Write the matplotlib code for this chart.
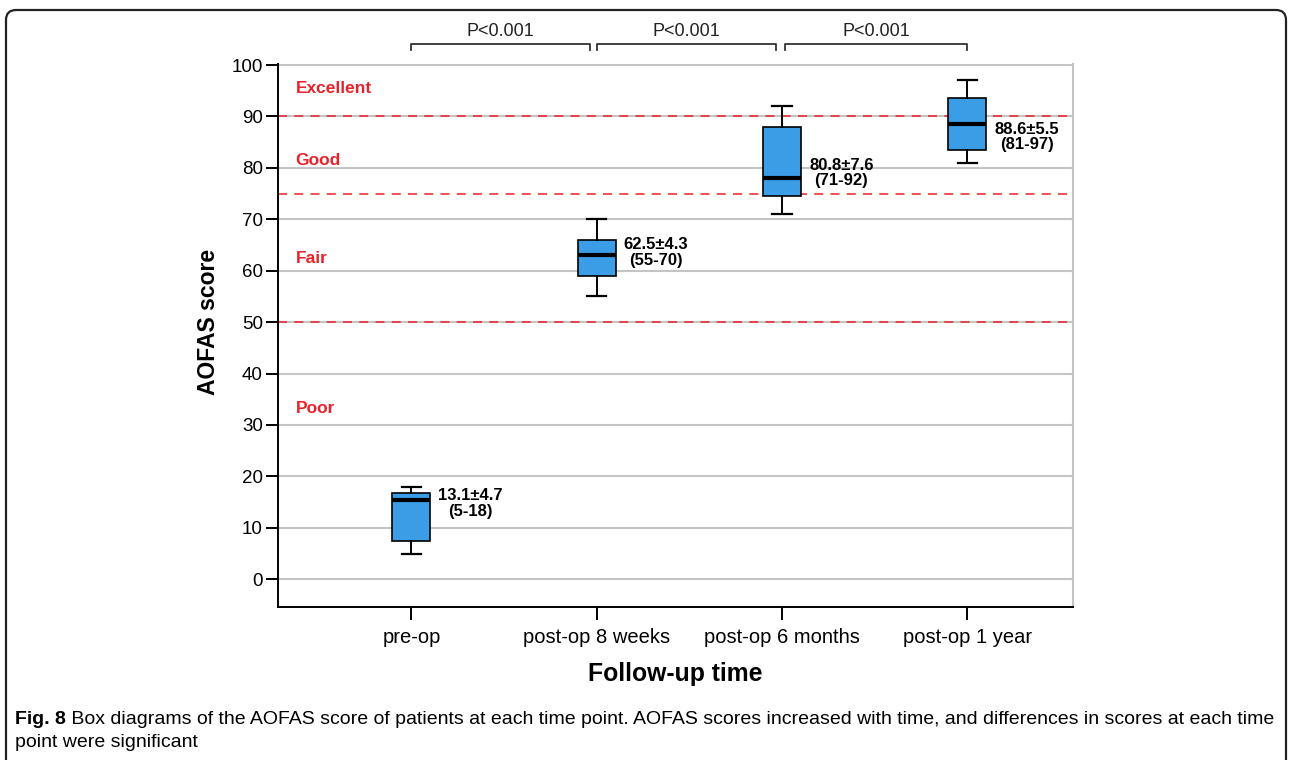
import matplotlib
matplotlib.use('Agg')
import matplotlib.pyplot as plt
from matplotlib.patches import FancyBboxPatch

plt.rcParams['font.family'] = ['Liberation Sans', 'DejaVu Sans']

# data
groups = ['pre-op', 'post-op 8 weeks', 'post-op 6 months', 'post-op 1 year']
whislo = [5, 55, 71, 81]
q1 = [7.5, 59, 74.5, 83.5]
med = [15.5, 63, 78, 88.5]
q3 = [16.8, 66, 88, 93.5]
whishi = [18, 70, 92, 97]
summary = ['13.1\u00b14.7\n(5-18)', '62.5\u00b14.3\n(55-70)',
           '80.8\u00b17.6\n(71-92)', '88.6\u00b15.5\n(81-97)']
summary_y = [14.7, 63.5, 79, 86]
cut_lines = [90, 75, 50]
grade_names = ['Excellent', 'Good', 'Fair', 'Poor']
grade_y = [95.4, 81.5, 62.3, 33.2]
p_labels = ['P<0.001', 'P<0.001', 'P<0.001']

red = '#e8232b'
blue = '#3a9de6'

fig = plt.figure(figsize=(12.92, 7.6), dpi=100)
ax = fig.add_axes([0.2152, 0.2013, 0.6153, 0.7145])

pos = list(range(1, len(groups) + 1))
stats = []
for i in range(len(groups)):
    stats.append(dict(whislo=whislo[i], q1=q1[i], med=med[i], q3=q3[i],
                      whishi=whishi[i], fliers=[], label=groups[i]))
ax.bxp(stats, positions=pos, widths=0.205, patch_artist=True,
       boxprops=dict(facecolor=blue, edgecolor='black', linewidth=1.2),
       medianprops=dict(color='black', linewidth=3),
       whiskerprops=dict(color='black', linewidth=1.4),
       capprops=dict(color='black', linewidth=1.6),
       capwidths=0.105, zorder=3)

# grid
for v in range(0, 101, 10):
    ax.axhline(v, color='#c4c4c4', lw=1.5, zorder=0)
for v in cut_lines:
    ax.axhline(v, color=red, lw=1.3, ls=(0, (5, 4)), zorder=1, alpha=0.85)

for x, y, s in zip(pos, summary_y, summary):
    ax.text(x + 0.32, y, s, ha='center', va='center', fontsize=12,
            fontweight='bold', linespacing=1.05, zorder=4)

for y, s in zip(grade_y, grade_names):
    ax.text(0.375, y, s, ha='left', va='center', fontsize=12.5,
            fontweight='bold', color=red)

ax.set_xlim(0.28, 4.57)
ax.set_ylim(-5.4, 100.2)
ax.set_yticks(range(0, 101, 10))
ax.set_xticks(pos)
ax.set_xticklabels(groups)
ax.tick_params(axis='both', length=9, width=1.4, colors='black')
ax.tick_params(axis='x', pad=6, labelsize=14.5)
ax.tick_params(axis='y', pad=2, labelsize=13.5)
ax.spines['top'].set_visible(False)
ax.spines['right'].set_color('#c4c4c4')
ax.spines['right'].set_linewidth(1.5)
ax.spines['left'].set_linewidth(1.4)
ax.spines['bottom'].set_linewidth(1.4)
ax.set_ylabel('AOFAS score', fontsize=16.5, fontweight='bold')
ax.yaxis.set_label_coords(-0.073, 0.525)
ax.set_xlabel('Follow-up time', fontsize=17.8, fontweight='bold', labelpad=11)

# significance brackets above the plot
trans = ax.get_xaxis_transform()
left_off = [0.0, 0.0, 0.016]
right_off = [0.038, 0.035, 0.0]
for i, lab in enumerate(p_labels):
    x0 = pos[i] + left_off[i]
    x1 = pos[i + 1] - right_off[i]
    yb, yt = 1.026, 1.037
    ax.plot([x0, x0, x1, x1], [yb, yt, yt, yb], color='#333333', lw=1.3,
            transform=trans, clip_on=False)
    ax.text((x0 + x1) / 2, 1.059, lab, ha='center', va='center',
            fontsize=13, transform=trans, color='#222222')

# caption
cap_font = ['Liberation Sans Narrow', 'Liberation Sans', 'DejaVu Sans']
t1 = fig.text(15 / 1292, 1 - 724 / 760, 'Fig. 8', fontsize=14,
              fontweight='bold', family=cap_font, va='baseline')
ax.annotate(' Box diagrams of the AOFAS score of patients at each time point. '
            'AOFAS scores increased with time, and differences in scores at each time',
            xy=(1, 0), xycoords=t1, va='bottom', ha='left',
            fontsize=14, family=cap_font, annotation_clip=False)
fig.text(15 / 1292, 1 - 747 / 760, 'point were significant', fontsize=14,
         family=cap_font, va='baseline')

# rounded frame around the whole panel
frame = FancyBboxPatch((0.06, -0.2), 12.8, 7.7,
                       boxstyle='round,pad=0,rounding_size=0.1',
                       transform=fig.dpi_scale_trans, fill=False,
                       edgecolor='#222222', lw=1.6)
fig.patches.append(frame)

fig.savefig('out.png', dpi=100)
